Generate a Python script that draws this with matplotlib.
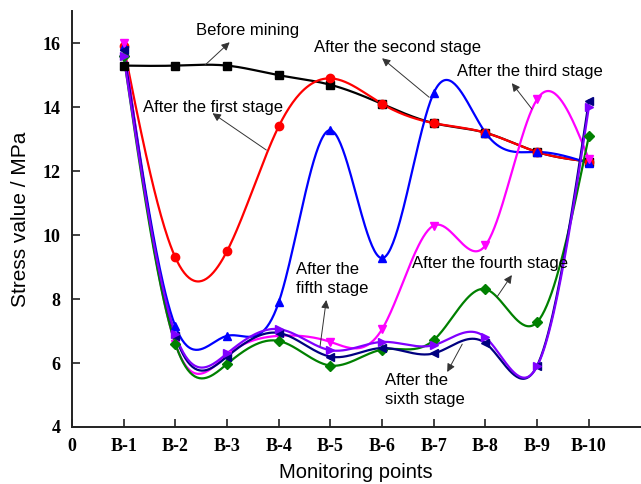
import numpy as np
from matplotlib import pyplot as plt

# Monitoring points B-1 ... B-10
points = ["B-1", "B-2", "B-3", "B-4", "B-5", "B-6", "B-7", "B-8", "B-9", "B-10"]

before_mining = [15.3, 15.3, 15.3, 15.0, 14.7, 14.1, 13.5, 13.2, 12.6, 12.3]
first_stage = [15.9, 9.3, 9.5, 13.4, 14.9, 14.1, 13.5, 13.2, 12.6, 12.3]
second_stage = [15.9, 7.15, 6.85, 7.9, 13.28, 9.28, 14.45, 13.2, 12.6, 12.25]
third_stage = [16.0, 6.6, 6.25, 6.85, 6.66, 7.06, 10.3, 9.68, 14.25, 12.37]
fourth_stage = [15.6, 6.6, 5.97, 6.69, 5.92, 6.42, 6.72, 8.31, 7.28, 13.1]
fifth_stage = [15.8, 6.85, 6.2, 6.94, 6.2, 6.47, 6.3, 6.62, 5.92, 14.2]
sixth_stage = [15.6, 6.9, 6.3, 7.06, 6.4, 6.66, 6.56, 6.8, 5.9, 14.0]


def natural_spline(xs, ys, n=400):
    """Natural cubic spline through (xs, ys), evaluated on a dense grid."""
    xs = np.asarray(xs, float)
    ys = np.asarray(ys, float)
    k = len(xs)
    h = np.diff(xs)
    A = np.zeros((k, k))
    b = np.zeros(k)
    A[0, 0] = A[-1, -1] = 1.0
    for i in range(1, k - 1):
        A[i, i - 1] = h[i - 1]
        A[i, i] = 2 * (h[i - 1] + h[i])
        A[i, i + 1] = h[i]
        b[i] = 6 * ((ys[i + 1] - ys[i]) / h[i] - (ys[i] - ys[i - 1]) / h[i - 1])
    m = np.linalg.solve(A, b)
    xd = np.linspace(xs[0], xs[-1], n)
    idx = np.clip(np.searchsorted(xs, xd) - 1, 0, k - 2)
    x0, x1 = xs[idx], xs[idx + 1]
    hh = x1 - x0
    t0, t1 = x1 - xd, xd - x0
    yd = (m[idx] * t0**3 / (6 * hh) + m[idx + 1] * t1**3 / (6 * hh)
          + (ys[idx] / hh - m[idx] * hh / 6) * t0
          + (ys[idx + 1] / hh - m[idx + 1] * hh / 6) * t1)
    return xd, yd


plt.rcParams['font.family'] = ['Liberation Sans', 'DejaVu Sans']

fig = plt.figure(figsize=(6.41, 4.84), dpi=100)
ax = fig.add_axes([0.1123, 0.1178, 0.887, 0.859])

x = np.arange(1, len(points) + 1)
series = [
    (before_mining, "black", "s"),
    (first_stage, "#ff0000", "o"),
    (second_stage, "#0000ff", "^"),
    (third_stage, "#ff00ff", "v"),
    (fourth_stage, "#008000", "D"),
    (fifth_stage, "#000080", "<"),
    (sixth_stage, "#8000ff", ">"),
]
for ys, color, marker in series:
    xd, yd = natural_spline(x, ys)
    ax.plot(xd, yd, color=color, lw=1.6, zorder=2)
    ms = 5 if marker == "D" else 6
    ax.plot(x, ys, ls="none", marker=marker, color=color, ms=ms, zorder=3)

# labels with thin arrows pointing to them
arrow = dict(arrowstyle="-|>", color="#333333", lw=0.7,
             mutation_scale=12, shrinkA=0, shrinkB=0)
notes = [
    ("Before mining", (2.40, 16.4), (3.05, 16.03), (2.57, 15.31)),
    ("After the first stage", (1.37, 13.98), (2.72, 13.81), (3.76, 12.66)),
    ("After the second stage", (4.68, 15.87), (6.0, 15.53), (6.91, 14.31)),
    ("After the third stage", (7.45, 15.1), (8.51, 14.75), (8.9, 13.94)),
    ("After the fourth stage", (6.58, 9.11), (8.51, 8.75), (8.22, 8.06)),
    ("After the\nfifth stage", (4.34, 8.62), (4.92, 7.97), (4.8, 6.53)),
    ("After the\nsixth stage", (6.06, 5.15), (7.26, 5.72), (7.55, 6.59)),
]
for text, pos, head, tail in notes:
    ax.annotate("", xy=head, xytext=tail, arrowprops=arrow, zorder=4)
    ax.text(pos[0], pos[1], text, fontsize=12, ha="left", va="center",
            linespacing=1.35, zorder=5)

ax.set_xlim(0, 11)
ax.set_ylim(4, 17)
ax.set_xticks(np.arange(0, 11))
ax.set_xticklabels(["0"] + points)
ax.set_yticks(np.arange(4, 17, 2))

for side in ["top", "right"]:
    ax.spines[side].set_visible(False)
for side in ["left", "bottom"]:
    ax.spines[side].set_linewidth(1.4)
    ax.spines[side].set_color("#222222")

ax.tick_params(direction="in", length=6, width=1.2, color="#222222", pad=8)
for lab in ax.get_xticklabels() + ax.get_yticklabels():
    lab.set_fontfamily("Liberation Serif")
    lab.set_fontweight("bold")
    lab.set_fontsize(13)

ax.set_xlabel("Monitoring points", fontsize=14.5, labelpad=6)
ax.set_ylabel("Stress value / MPa", fontsize=15, labelpad=9)

fig.savefig("out.png", dpi=100)
